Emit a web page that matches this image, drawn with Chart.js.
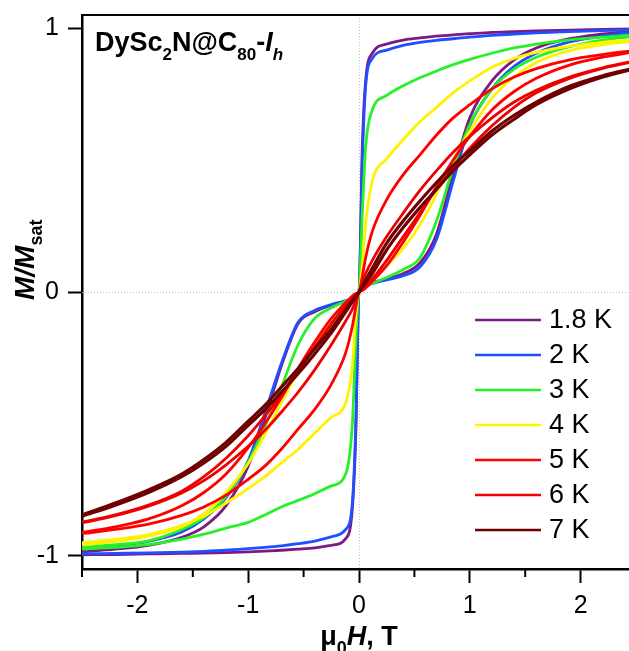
<!DOCTYPE html>
<html>
<head>
<meta charset="utf-8">
<script src="https://cdn.jsdelivr.net/npm/chart.js@4.4.1/dist/chart.umd.min.js"></script>
<style>
  html, body { margin: 0; padding: 0; background: #fff; overflow: hidden; width: 629px; height: 651px; }
  #wrap { width: 640px; height: 651px; }
</style>
</head>
<body>
<div id="wrap"><canvas id="chart" width="640" height="651"></canvas></div>
<script>
// field grid (T), shared by all sweeps
const fieldT = [-2.5, -2.2, -1.9, -1.6, -1.4, -1.2, -1.0, -0.85, -0.7, -0.55, -0.4, -0.25, -0.12, -0.06, -0.03,
  0, 0.03, 0.06, 0.12, 0.25, 0.4, 0.55, 0.7, 0.85, 1.0, 1.2, 1.4, 1.6, 1.9, 2.2, 2.5];

const temps = ['1.8 K', '2 K', '3 K', '4 K', '5 K', '6 K', '7 K'];

// M/Msat, sweep from +H to -H
const down18 = [-0.985, -0.975, -0.96, -0.93, -0.89, -0.81, -0.66, -0.48, -0.28, -0.12, -0.075, -0.05, -0.035, -0.025, -0.015,
  0.0, 0.55, 0.8, 0.905, 0.94, 0.955, 0.963, 0.97, 0.975, 0.979, 0.984, 0.987, 0.99, 0.993, 0.995, 0.997];
const down2 = [-0.975, -0.962, -0.945, -0.91, -0.86, -0.78, -0.64, -0.46, -0.27, -0.115, -0.07, -0.048, -0.033, -0.024, -0.015,
  0.0, 0.5, 0.78, 0.885, 0.917, 0.935, 0.946, 0.954, 0.96, 0.966, 0.973, 0.978, 0.982, 0.987, 0.991, 0.994];
const down3 = [-0.968, -0.958, -0.943, -0.9, -0.855, -0.775, -0.645, -0.51, -0.36, -0.2, -0.1, -0.06, -0.035, -0.022, -0.012,
  0.0, 0.3, 0.55, 0.69, 0.745, 0.782, 0.812, 0.838, 0.862, 0.882, 0.905, 0.925, 0.94, 0.956, 0.966, 0.975];
const down4 = [-0.958, -0.945, -0.925, -0.89, -0.84, -0.76, -0.65, -0.54, -0.42, -0.3, -0.2, -0.12, -0.06, -0.03, -0.015,
  0.0, 0.1, 0.26, 0.42, 0.505, 0.578, 0.645, 0.7, 0.755, 0.8, 0.852, 0.885, 0.908, 0.932, 0.946, 0.957];
const down5 = [-0.912, -0.89, -0.86, -0.81, -0.76, -0.69, -0.59, -0.5, -0.4, -0.29, -0.19, -0.1, -0.04, -0.015, -0.006,
  0.0, 0.06, 0.13, 0.23, 0.35, 0.445, 0.52, 0.595, 0.66, 0.71, 0.77, 0.815, 0.847, 0.88, 0.9, 0.916];
const down6 = [-0.873, -0.845, -0.808, -0.755, -0.7, -0.63, -0.545, -0.47, -0.39, -0.3, -0.21, -0.12, -0.05, -0.025, -0.012,
  0.0, 0.04, 0.07, 0.12, 0.21, 0.3, 0.385, 0.46, 0.53, 0.59, 0.66, 0.72, 0.765, 0.815, 0.85, 0.877];
const down7 = [-0.845, -0.8, -0.75, -0.69, -0.635, -0.57, -0.49, -0.43, -0.36, -0.29, -0.215, -0.14, -0.065, -0.032, -0.016,
  0.0, 0.022, 0.045, 0.09, 0.185, 0.27, 0.345, 0.415, 0.48, 0.535, 0.61, 0.67, 0.72, 0.78, 0.82, 0.85];

// M/Msat, sweep from -H to +H
const up18 = [-0.996, -0.995, -0.993, -0.991, -0.99, -0.988, -0.985, -0.982, -0.979, -0.975, -0.97, -0.96, -0.935, -0.82, -0.55,
  0.0, 0.015, 0.025, 0.035, 0.05, 0.07, 0.11, 0.22, 0.45, 0.66, 0.8, 0.88, 0.925, 0.96, 0.978, 0.99];
const up2 = [-0.993, -0.991, -0.989, -0.986, -0.983, -0.979, -0.973, -0.968, -0.962, -0.954, -0.944, -0.928, -0.9, -0.8, -0.52,
  0.0, 0.012, 0.022, 0.032, 0.046, 0.062, 0.095, 0.2, 0.42, 0.63, 0.77, 0.855, 0.905, 0.948, 0.97, 0.986];
const up3 = [-0.974, -0.968, -0.958, -0.937, -0.918, -0.895, -0.873, -0.845, -0.815, -0.79, -0.765, -0.735, -0.69, -0.5, -0.2,
  0.0, 0.01, 0.02, 0.032, 0.055, 0.085, 0.13, 0.27, 0.47, 0.635, 0.77, 0.845, 0.89, 0.93, 0.955, 0.97];
const up4 = [-0.95, -0.938, -0.92, -0.885, -0.85, -0.8, -0.745, -0.7, -0.648, -0.597, -0.535, -0.475, -0.42, -0.28, -0.1,
  0.0, 0.012, 0.022, 0.045, 0.1, 0.165, 0.255, 0.37, 0.5, 0.61, 0.735, 0.815, 0.87, 0.915, 0.938, 0.952];
const up5 = [-0.916, -0.9, -0.88, -0.847, -0.815, -0.77, -0.71, -0.66, -0.595, -0.52, -0.445, -0.35, -0.23, -0.13, -0.06,
  0.0, 0.006, 0.015, 0.04, 0.1, 0.19, 0.29, 0.4, 0.5, 0.59, 0.69, 0.76, 0.81, 0.86, 0.89, 0.912];
const up6 = [-0.875, -0.848, -0.812, -0.762, -0.715, -0.655, -0.585, -0.525, -0.455, -0.38, -0.295, -0.2, -0.11, -0.065, -0.035,
  0.0, 0.012, 0.025, 0.05, 0.12, 0.21, 0.3, 0.39, 0.47, 0.545, 0.63, 0.7, 0.755, 0.81, 0.848, 0.875];
const up7 = [-0.85, -0.808, -0.76, -0.7, -0.648, -0.585, -0.505, -0.447, -0.38, -0.31, -0.235, -0.155, -0.075, -0.038, -0.019,
  0.0, 0.018, 0.035, 0.07, 0.16, 0.245, 0.32, 0.39, 0.46, 0.52, 0.595, 0.655, 0.71, 0.77, 0.815, 0.848];

const xTicks = [-2, -1, 0, 1, 2];
const xMinorTicks = [-2.5, -1.5, -0.5, 0.5, 1.5];
const yTicks = [-1, 0, 1];

const downSweeps = [down18, down2, down3, down4, down5, down6, down7];
const upSweeps = [up18, up2, up3, up4, up5, up6, up7];
const colors = ['#7b1a82', '#1f4fff', '#26f026', '#fff200', '#ff0000', '#ee0000', '#6e0000'];

const FONT = "'Liberation Sans', Arial, sans-serif";

function toPoints(arr) {
  return arr.map((m, i) => ({ x: fieldT[i], y: m }));
}

const datasets = [];
temps.forEach((t, i) => {
  [downSweeps[i], upSweeps[i]].forEach(sweep => {
    datasets.push({
      label: t,
      data: toPoints(sweep),
      borderColor: colors[i],
      borderWidth: i === 6 ? 3.2 : 2.8,
      pointRadius: 0,
      fill: false,
      cubicInterpolationMode: 'monotone',
      order: temps.length - i
    });
  });
});

function drawRuns(ctx, x, y, runs) {
  runs.forEach(r => {
    ctx.font = r.f;
    ctx.fillText(r.t, x, y + (r.dy || 0));
    x += ctx.measureText(r.t).width;
  });
  return x;
}

function runsWidth(ctx, runs) {
  let w = 0;
  runs.forEach(r => { ctx.font = r.f; w += ctx.measureText(r.t).width; });
  return w;
}

const decorPlugin = {
  id: 'decor',
  beforeDatasetsDraw(chart) {
    const { ctx, chartArea: a, scales: { x, y } } = chart;
    ctx.save();
    ctx.strokeStyle = '#c4c4c4';
    ctx.lineWidth = 1;
    ctx.setLineDash([1, 2]);
    const x0 = Math.round(x.getPixelForValue(0)) + 0.5;
    const y0 = Math.round(y.getPixelForValue(0)) + 0.5;
    ctx.beginPath();
    ctx.moveTo(x0, a.top); ctx.lineTo(x0, a.bottom);
    ctx.moveTo(a.left, y0); ctx.lineTo(a.right, y0);
    ctx.stroke();
    ctx.restore();
  },
  afterDraw(chart) {
    const { ctx, chartArea: a, scales: { x } } = chart;
    ctx.save();
    // top frame line
    ctx.strokeStyle = '#000';
    ctx.lineWidth = 2.2;
    ctx.beginPath();
    ctx.moveTo(a.left - 1, a.top);
    ctx.lineTo(a.right, a.top);
    ctx.stroke();
    // minor ticks on the field axis
    ctx.lineWidth = 2;
    xMinorTicks.forEach(v => {
      const px = x.getPixelForValue(v);
      ctx.beginPath();
      ctx.moveTo(px, a.bottom);
      ctx.lineTo(px, a.bottom + 8);
      ctx.stroke();
    });

    ctx.fillStyle = '#000';
    ctx.textBaseline = 'alphabetic';
    ctx.textAlign = 'left';

    // sample label
    drawRuns(ctx, 95, 51, [
      { t: 'DySc', f: `bold 27px ${FONT}` },
      { t: '2', f: `bold 17px ${FONT}`, dy: 9 },
      { t: 'N@C', f: `bold 27px ${FONT}` },
      { t: '80', f: `bold 17px ${FONT}`, dy: 9 },
      { t: '-', f: `bold 27px ${FONT}` },
      { t: 'I', f: `italic bold 27px ${FONT}` },
      { t: 'h', f: `italic bold 17px ${FONT}`, dy: 9 }
    ]);

    // x title
    const xRuns = [
      { t: 'μ', f: `bold 27px ${FONT}` },
      { t: '0', f: `bold 18px ${FONT}`, dy: 9 },
      { t: 'H', f: `italic bold 27px ${FONT}` },
      { t: ', T', f: `bold 27px ${FONT}` }
    ];
    const xc = x.getPixelForValue(0);
    drawRuns(ctx, xc - runsWidth(ctx, xRuns) / 2, 645, xRuns);

    // y title
    ctx.save();
    ctx.translate(34, 300);
    ctx.rotate(-Math.PI / 2);
    drawRuns(ctx, 0, 0, [
      { t: 'M/M', f: `italic bold 28px ${FONT}` },
      { t: 'sat', f: `bold 18px ${FONT}`, dy: 8 }
    ]);
    ctx.restore();

    // legend
    ctx.textBaseline = 'middle';
    ctx.font = `27px ${FONT}`;
    temps.forEach((t, i) => {
      const ly = 320 + i * 35;
      ctx.strokeStyle = colors[i];
      ctx.lineWidth = 2.6;
      ctx.beginPath();
      ctx.moveTo(475, ly);
      ctx.lineTo(541, ly);
      ctx.stroke();
      ctx.fillStyle = '#000';
      ctx.fillText(t, 549, ly + 1);
    });
    ctx.restore();
  }
};

new Chart(document.getElementById('chart'), {
  type: 'line',
  data: { datasets },
  options: {
    responsive: false,
    animation: false,
    devicePixelRatio: 1,
    layout: { padding: { left: 0, top: 15, right: 4, bottom: 0 } },
    plugins: { legend: { display: false }, tooltip: { enabled: false } },
    scales: {
      x: {
        type: 'linear',
        min: -2.5,
        max: 2.5,
        afterBuildTicks: s => { s.ticks = xTicks.map(v => ({ value: v })); },
        afterFit: s => { s.height = 82; s.paddingLeft = 0; s.paddingRight = 0; },
        ticks: { color: '#000', font: { family: FONT, size: 25 }, padding: 8, maxRotation: 0, autoSkip: false },
        grid: { drawOnChartArea: false, drawTicks: true, tickLength: 14, tickWidth: 2, tickColor: '#000' },
        border: { display: true, color: '#000', width: 2.5 }
      },
      y: {
        type: 'linear',
        min: -1.05,
        max: 1.05,
        afterBuildTicks: s => { s.ticks = yTicks.map(v => ({ value: v })); },
        afterFit: s => { s.width = 82; s.paddingTop = 0; s.paddingBottom = 0; },
        ticks: { color: '#000', font: { family: FONT, size: 25 }, padding: 9 },
        grid: { drawOnChartArea: false, drawTicks: true, tickLength: 14, tickWidth: 2, tickColor: '#000' },
        border: { display: true, color: '#000', width: 2.5 }
      }
    }
  },
  plugins: [decorPlugin]
});
</script>
</body>
</html>
